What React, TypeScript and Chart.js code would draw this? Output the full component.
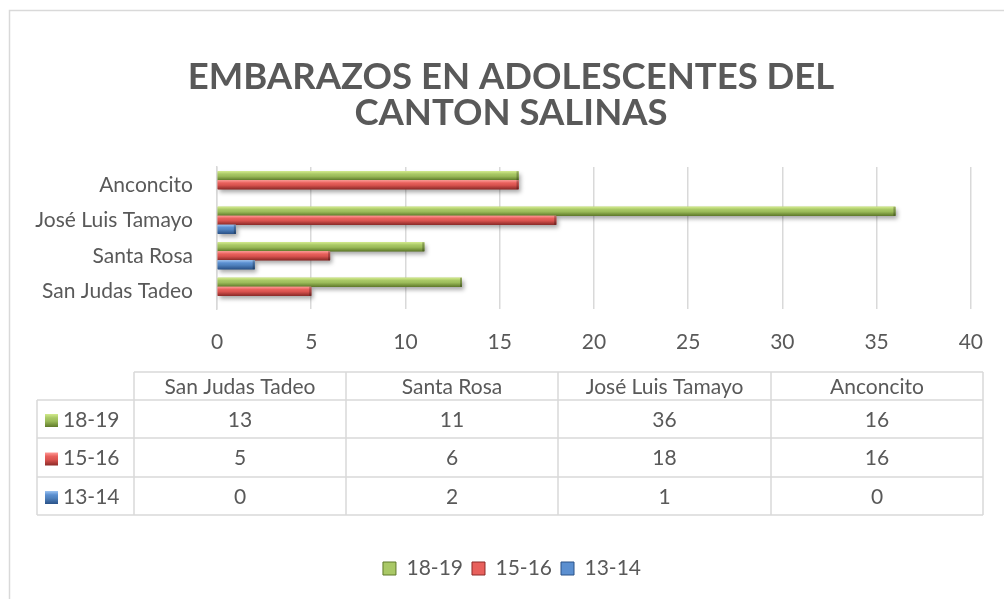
import React, { useEffect, useRef } from 'react';
import { Chart, registerables } from 'chart.js';

Chart.register(...registerables);

// ---------- data ----------
const categories = ['San Judas Tadeo', 'Santa Rosa', 'José Luis Tamayo', 'Anconcito'];
const seriesNames = ['18-19', '15-16', '13-14'];
const values1819 = [13, 11, 36, 16];
const values1516 = [5, 6, 18, 16];
const values1314 = [0, 2, 1, 0];
const xMin = 0;
const xMax = 40;
const xStep = 5;
const titleLines = ['EMBARAZOS EN ADOLESCENTES DEL', 'CANTON SALINAS'];

// ---------- styles ----------
const FONT = 'Lato, "Liberation Sans", sans-serif';
const TEXT = '#595959';
const GRID = '#d9d9d9';
const FS = 21;
const palettes = [
  { base: '#9bbb59', light: '#d2ea8c', mid: '#a9c866', dark: '#5f7a2a' },
  { base: '#d9534f', light: '#ff9a96', mid: '#e8605c', dark: '#8c2a28' },
  { base: '#4f81bd', light: '#9cc4f2', mid: '#5b8fd0', dark: '#2a5288' },
];
const seriesValues = [values1819, values1516, values1314];

function bevelFill(ctx: CanvasRenderingContext2D, x: number, y: number, w: number, h: number, p: any) {
  const g = ctx.createLinearGradient(0, y, 0, y + h);
  g.addColorStop(0, p.light);
  g.addColorStop(0.3, p.mid);
  g.addColorStop(0.55, p.base);
  g.addColorStop(1, p.dark);
  ctx.fillStyle = g;
  ctx.fillRect(x, y, w, h);
}

const decorPlugin = {
  id: 'decor',
  afterLayout(chart: any) {
    // centre the legend under the whole chart frame, as in the reference
    if (chart.legend) {
      chart.legend.left = 52;
      chart.legend.right = 972;
    }
  },
  beforeDraw(chart: any) {
    const { ctx } = chart;
    ctx.save();
    ctx.fillStyle = '#ffffff';
    ctx.fillRect(0, 0, chart.width, chart.height);
    ctx.strokeStyle = GRID;
    ctx.lineWidth = 1.5;
    ctx.beginPath();
    ctx.moveTo(9.5, chart.height + 5);
    ctx.lineTo(9.5, 10.5);
    ctx.lineTo(chart.width + 5, 10.5);
    ctx.stroke();
    // title
    ctx.fillStyle = TEXT;
    ctx.font = `bold 36.5px ${FONT}`;
    ctx.textAlign = 'center';
    ctx.textBaseline = 'alphabetic';
    ctx.fillText(titleLines[0], 511, 89);
    ctx.fillText(titleLines[1], 511, 125);
    ctx.restore();
  },
  afterDatasetsDraw(chart: any) {
    const { ctx } = chart;
    ctx.save();
    chart.data.datasets.forEach((ds: any, di: number) => {
      const meta = chart.getDatasetMeta(di);
      const p = palettes[di];
      meta.data.forEach((el: any) => {
        const { x, y, base, height } = el.getProps(['x', 'y', 'base', 'height'], true);
        const left = Math.min(x, base);
        const w = Math.abs(x - base);
        if (w < 0.5) return;
        const top = y - height / 2;
        ctx.save();
        ctx.shadowColor = 'rgba(0,0,0,0.35)';
        ctx.shadowBlur = 4;
        ctx.shadowOffsetX = 2;
        ctx.shadowOffsetY = 3;
        bevelFill(ctx, left, top, w, height, p);
        ctx.restore();
        bevelFill(ctx, left, top, w, height, p);
        ctx.fillStyle = 'rgba(0,0,0,0.25)';
        ctx.fillRect(left + w - 2, top, 2, height);
      });
    });
    ctx.restore();
  },
  afterDraw(chart: any) {
    const { ctx } = chart;
    const colX = [134, 346, 558, 771, 983];
    const rowHeaderLeft = 37;
    const headTop = 372;
    const rowY = [400, 438, 477, 515];
    ctx.save();
    ctx.strokeStyle = GRID;
    ctx.lineWidth = 1.5;
    ctx.beginPath();
    ctx.moveTo(colX[0], headTop);
    ctx.lineTo(colX[4], headTop);
    rowY.forEach((yy) => {
      ctx.moveTo(rowHeaderLeft, yy);
      ctx.lineTo(colX[4], yy);
    });
    colX.forEach((xx) => {
      ctx.moveTo(xx, headTop);
      ctx.lineTo(xx, rowY[3]);
    });
    ctx.moveTo(rowHeaderLeft, rowY[0]);
    ctx.lineTo(rowHeaderLeft, rowY[3]);
    ctx.stroke();

    ctx.fillStyle = TEXT;
    ctx.font = `${FS}px ${FONT}`;
    ctx.textBaseline = 'middle';
    ctx.textAlign = 'center';
    categories.forEach((c, i) => {
      ctx.fillText(c, (colX[i] + colX[i + 1]) / 2, (headTop + rowY[0]) / 2 + 1);
    });
    seriesNames.forEach((s, r) => {
      const cy = (rowY[r] + rowY[r + 1]) / 2 + 1;
      ctx.fillStyle = TEXT;
      ctx.textAlign = 'center';
      seriesValues[r].forEach((v, i) => {
        ctx.fillText(String(v), (colX[i] + colX[i + 1]) / 2, cy);
      });
      bevelFill(ctx, 45, cy - 6, 13, 13, palettes[r]);
      ctx.fillStyle = TEXT;
      ctx.textAlign = 'left';
      ctx.fillText(s, 63, cy);
    });
    ctx.restore();
  },
};

export default function App() {
  const ref = useRef<HTMLCanvasElement | null>(null);
  useEffect(() => {
    if (!ref.current) return;
    const chart = new Chart(ref.current, {
      type: 'bar',
      data: {
        labels: categories,
        datasets: seriesNames.map((name, i) => ({
          label: name,
          data: seriesValues[i],
          backgroundColor: palettes[i].base,
          borderColor: palettes[i].dark,
          borderWidth: 0,
          categoryPercentage: 0.76,
          barPercentage: 1,
        })),
      },
      options: {
        indexAxis: 'y',
        animation: false,
        responsive: false,
        devicePixelRatio: 1,
        layout: { padding: { top: 167, right: 32, bottom: 10, left: 0 } },
        scales: {
          x: {
            min: xMin,
            max: xMax,
            ticks: { stepSize: xStep, color: TEXT, font: { family: FONT, size: FS }, padding: 21 },
            grid: { color: GRID, lineWidth: 1.5, drawTicks: false },
            border: { display: false },
            afterFit: (s: any) => { s.height = 240; },
          },
          y: {
            reverse: true,
            ticks: { color: TEXT, font: { family: FONT, size: FS }, padding: 24 },
            grid: { display: false, drawTicks: false },
            border: { display: true, color: GRID, width: 1.5 },
            afterFit: (s: any) => { s.width = 217; },
          },
        },
        plugins: {
          title: { display: false },
          tooltip: { enabled: false },
          legend: {
            position: 'bottom',
            labels: {
              color: TEXT,
              font: { family: FONT, size: FS },
              boxWidth: 13,
              boxHeight: 13,
              padding: 9,
              generateLabels: (ch: any) =>
                ch.data.datasets.map((ds: any, i: number) => ({
                  text: ds.label,
                  fillStyle: palettes[i].mid,
                  strokeStyle: palettes[i].dark,
                  lineWidth: 1,
                  fontColor: TEXT,
                  datasetIndex: i,
                  hidden: false,
                })),
            },
          },
        },
      },
      plugins: [decorPlugin],
    } as any);
    return () => chart.destroy();
  }, []);
  return (
    <div style={{ position: 'fixed', left: 0, top: 0, width: 1004, height: 599, background: '#fff' }}>
      <canvas ref={ref} width={1004} height={599} style={{ display: 'block' }} />
    </div>
  );
}
